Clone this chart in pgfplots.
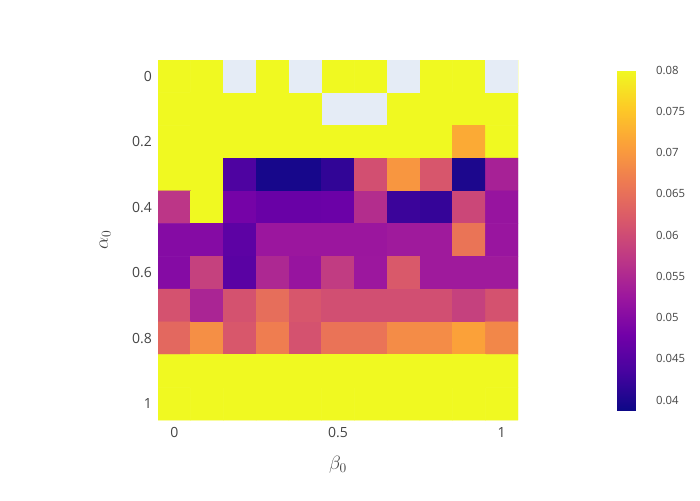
\documentclass[border=0pt]{standalone}
\usepackage{pgfplots}
\pgfplotsset{compat=1.18}
\usepackage{pgfplotstable}
\usepackage{fontspec}
\setmainfont{Open Sans}
\definecolor{tickc}{HTML}{444444}
\definecolor{nanbg}{HTML}{E5ECF6}
\pgfplotsset{colormap={plasma}{rgb255=(13,8,135) rgb255=(70,3,159) rgb255=(114,1,168) rgb255=(156,23,158) rgb255=(189,55,134) rgb255=(216,87,107) rgb255=(237,121,83) rgb255=(251,159,58) rgb255=(253,202,38) rgb255=(240,249,33)}}
\pgfplotstableread{
x y z
0 0 0.08
0.1 0 0.08
0.2 0 0.08
0.3 0 0.08
0.4 0 0.08
0.5 0 0.08
0.6 0 0.08
0.7 0 0.08
0.8 0 0.08
0.9 0 0.08
1 0 0.08
0 0.1 0.08
0.1 0.1 0.08
0.2 0.1 0.08
0.3 0.1 0.08
0.4 0.1 0.08
0.5 0.1 0.08
0.6 0.1 0.08
0.7 0.1 0.08
0.8 0.1 0.08
0.9 0.1 0.08
1 0.1 0.08
0 0.2 0.08
0.1 0.2 0.08
0.2 0.2 0.08
0.3 0.2 0.08
0.4 0.2 0.08
0.5 0.2 0.08
0.6 0.2 0.08
0.7 0.2 0.08
0.8 0.2 0.08
0.9 0.2 0.072
1 0.2 0.08
0 0.3 0.08
0.1 0.3 0.08
0.2 0.3 0.0442
0.3 0.3 0.0396
0.4 0.3 0.0396
0.5 0.3 0.0417
0.6 0.3 0.0606
0.7 0.3 0.0697
0.8 0.3 0.0615
0.9 0.3 0.0400
1 0.3 0.0540
0 0.4 0.0570
0.1 0.4 0.08
0.2 0.4 0.0483
0.3 0.4 0.0470
0.4 0.4 0.0470
0.5 0.4 0.0472
0.6 0.4 0.0557
0.7 0.4 0.0425
0.8 0.4 0.0420
0.9 0.4 0.0594
1 0.4 0.0520
0 0.5 0.0500
0.1 0.5 0.0500
0.2 0.5 0.0458
0.3 0.5 0.0524
0.4 0.5 0.0524
0.5 0.5 0.0524
0.6 0.5 0.0524
0.7 0.5 0.0530
0.8 0.5 0.0530
0.9 0.5 0.0656
1 0.5 0.0522
0 0.6 0.0500
0.1 0.6 0.0585
0.2 0.6 0.0455
0.3 0.6 0.0549
0.4 0.6 0.0520
0.5 0.6 0.0578
0.6 0.6 0.0525
0.7 0.6 0.0619
0.8 0.6 0.0530
0.9 0.6 0.0530
1 0.6 0.0530
0 0.7 0.0610
0.1 0.7 0.0545
0.2 0.7 0.0610
0.3 0.7 0.0648
0.4 0.7 0.0615
0.5 0.7 0.0605
0.6 0.7 0.0605
0.7 0.7 0.0605
0.8 0.7 0.0605
0.9 0.7 0.0585
1 0.7 0.0610
0 0.8 0.0640
0.1 0.8 0.0689
0.2 0.8 0.0617
0.3 0.8 0.0668
0.4 0.8 0.0610
0.5 0.8 0.0655
0.6 0.8 0.0655
0.7 0.8 0.0685
0.8 0.8 0.0685
0.9 0.8 0.0710
1 0.8 0.0680
0 0.9 0.08
0.1 0.9 0.08
0.2 0.9 0.08
0.3 0.9 0.08
0.4 0.9 0.08
0.5 0.9 0.08
0.6 0.9 0.08
0.7 0.9 0.08
0.8 0.9 0.08
0.9 0.9 0.08
1 0.9 0.08
0 1 0.08
0.1 1 0.08
0.2 1 0.08
0.3 1 0.08
0.4 1 0.08
0.5 1 0.08
0.6 1 0.08
0.7 1 0.08
0.8 1 0.08
0.9 1 0.08
1 1 0.08
}\heat
\begin{document}
\begin{tikzpicture}
\useasboundingbox (0pt,0pt) rectangle (525pt,375pt);
\begin{axis}[
  at={(118.5pt,60pt)}, anchor=south west,
  width=270pt, height=270pt, scale only axis,
  xmin=-0.05, xmax=1.05, ymin=-0.05, ymax=1.05,
  y dir=reverse,
  axis line style={draw=none},
  major tick length=0pt,
  xtick={0,0.5,1}, ytick={0,0.2,0.4,0.6,0.8,1},
  /pgf/number format/assume math mode=true,
  ticklabel style={font=\fontsize{10.5}{12}\selectfont, text=tickc},
  xticklabel style={yshift=-2pt},
  yticklabel style={xshift=-1pt},
  xlabel={$\beta_0$}, ylabel={$\alpha_0$},
  label style={font=\fontsize{14}{16}\selectfont, text=tickc},
  xlabel style={at={(axis description cs:0.5,-0.125)}, anchor=center},
  ylabel style={at={(axis description cs:-0.147,0.5)}, anchor=center},
  colormap name=plasma,
  point meta min=0.0388, point meta max=0.08,
  colorbar,
  colorbar style={
    at={(1.275,0.972)}, anchor=north west,
    width=24.75pt, height=255pt,
    axis line style={draw=none},
    major tick length=0pt,
    scaled y ticks=false,
    ytick={0.04,0.045,0.05,0.055,0.06,0.065,0.07,0.075,0.08},
    yticklabel style={font=\fontsize{8.5}{10}\selectfont, text=tickc,
      /pgf/number format/fixed, /pgf/number format/precision=3, xshift=1pt},
    /pgf/number format/assume math mode=true,
  },
]
\addplot[matrix plot*, mesh/cols=11, point meta=explicit] table[x=x, y=y, meta=z] {\heat};
\addplot[fill=nanbg, draw=none] coordinates {(0.15,-0.05) (0.25,-0.05) (0.25,0.05) (0.15,0.05)} --cycle;
\addplot[fill=nanbg, draw=none] coordinates {(0.35,-0.05) (0.45,-0.05) (0.45,0.05) (0.35,0.05)} --cycle;
\addplot[fill=nanbg, draw=none] coordinates {(0.65,-0.05) (0.75,-0.05) (0.75,0.05) (0.65,0.05)} --cycle;
\addplot[fill=nanbg, draw=none] coordinates {(0.95,-0.05) (1.05,-0.05) (1.05,0.05) (0.95,0.05)} --cycle;
\addplot[fill=nanbg, draw=none] coordinates {(0.45,0.05) (0.65,0.05) (0.65,0.15) (0.45,0.15)} --cycle;
\end{axis}
\end{tikzpicture}
\end{document}
